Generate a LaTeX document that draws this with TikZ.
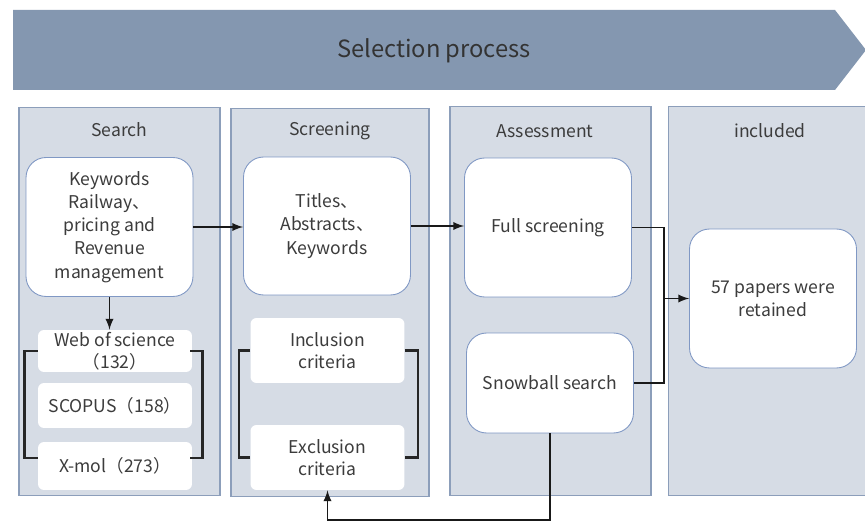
\documentclass[tikz,border=0pt]{standalone}
\usepackage{fontspec}
\setmainfont{Noto Sans CJK SC}
\usepackage{tikz}
\usepackage{xcolor}
\usetikzlibrary{arrows,backgrounds}
\usetikzlibrary{positioning}
\definecolor{bannerblue}{RGB}{132,151,176}
\definecolor{panelfill}{RGB}{214,220,229}
\definecolor{panelline}{RGB}{140,158,186}
\definecolor{boxline}{RGB}{128,152,196}
\definecolor{txtgray}{RGB}{60,60,60}
\tikzstyle{panel}=[draw=panelline, fill=panelfill, line width=0.6pt, minimum width=4.02cm, minimum height=7.78cm, inner sep=0pt]
\tikzstyle{ptitle}=[text=txtgray, font=\fontsize{10}{12}\selectfont]
\tikzstyle{box}=[draw=boxline, fill=white, rounded corners=0.4cm, line width=0.5pt, align=center, text=txtgray, font=\fontsize{10}{13.2}\selectfont, minimum width=3.34cm, minimum height=2.78cm]
\tikzstyle{dbbox}=[fill=white, rounded corners=0.12cm, align=center, text=txtgray, font=\fontsize{10}{12.5}\selectfont, minimum width=3.08cm, inner sep=0pt]
\tikzstyle{bracket}=[draw=black!85, line width=1.4pt]
\tikzstyle{conn}=[draw=black!90, line width=1.1pt]
\tikzset{>=latex}

\begin{document}
\begin{tikzpicture}[x=0.02cm, y=-0.02cm]
    \useasboundingbox (0,0) rectangle (865,526);

    % banner
    \fill[fill=bannerblue] (13,10) -- (835,10) -- (866,50) -- (835,90) -- (13,90) -- cycle;
    \draw node at (434,51) [font=\fontsize{13.5}{16}\selectfont, text=black!80] (banner) {Selection process};

    % columns
    \draw node at (119.5,301.5) [panel] (search) {};
    \draw node at (330,302.5) [panel, minimum width=3.96cm] (screen) {};
    \draw node at (550.5,301) [panel] (assess) {};
    \draw node at (768,301) [panel, minimum width=4cm] (incl) {};

    \draw node at (119.5,130) [ptitle] (searcht) {Search};
    \draw node at (330,131) [ptitle] (screent) {Screening};
    \draw node at (545,131) [ptitle] (assesst) {Assessment};
    \draw node at (770,131) [ptitle] (inclt) {included};

    % boxes
    \draw node at (109.5,227) [box] (kw) {Keywords\\Railway、\\pricing and\\Revenue\\management};
    \draw node at (327,226) [box, minimum height=2.76cm] (titles) {Titles、\\Abstracts、\\Keywords};
    \draw node at (548,227.5) [box] (full) {Full screening};
    \draw node at (550,383) [box, minimum height=2cm] (snow) {Snowball search};
    \draw node at (773,298.5) [box] (papers) {57 papers were\\retained};

    \draw node at (115,351) [dbbox, minimum height=0.84cm] (web) {Web of science\\（132）};
    \draw node at (115,405.5) [dbbox, minimum height=0.9cm] (scopus) {SCOPUS（158）};
    \draw node at (115,466) [dbbox, minimum height=0.96cm] (xmol) {X-mol（273）};
    \draw node at (327.5,350.5) [dbbox, minimum height=1.3cm] (inc) {Inclusion\\criteria};
    \draw node at (327.5,457.5) [dbbox, minimum height=1.3cm] (exc) {Exclusion\\criteria};

    % brackets
    \draw [bracket] (web.west) -- ++(-13,0) |- ([yshift=0.16cm]xmol.west);
    \draw [bracket] ([xshift=-0.04cm]web.east) -- ++(12,0) |- ([xshift=-0.04cm, yshift=0.16cm]xmol.east);
    \draw [bracket] (inc.west) -- ++(-11,0) |- (exc.west);
    \draw [bracket] (inc.east) -- ++(13,0) |- (exc.east);

    % connectors
    \coordinate (j) at ([xshift=-0.5cm]papers.west);
    \coordinate (b) at (550,520);
    \draw [conn, ->] (kw.south) -- (kw.south |- web.north);
    \draw [conn, ->] (kw.east) -- (kw.east -| titles.west);
    \draw [conn, ->] (titles.east) -- (titles.east -| full.west);
    \draw [conn] (full.east) -| (j |- snow.east) -- (snow.east);
    \draw [conn, ->] (j) -- (papers.west);
    \draw [conn, ->] (snow.south) -- (b) -| (exc.south);
\end{tikzpicture}
\end{document}
